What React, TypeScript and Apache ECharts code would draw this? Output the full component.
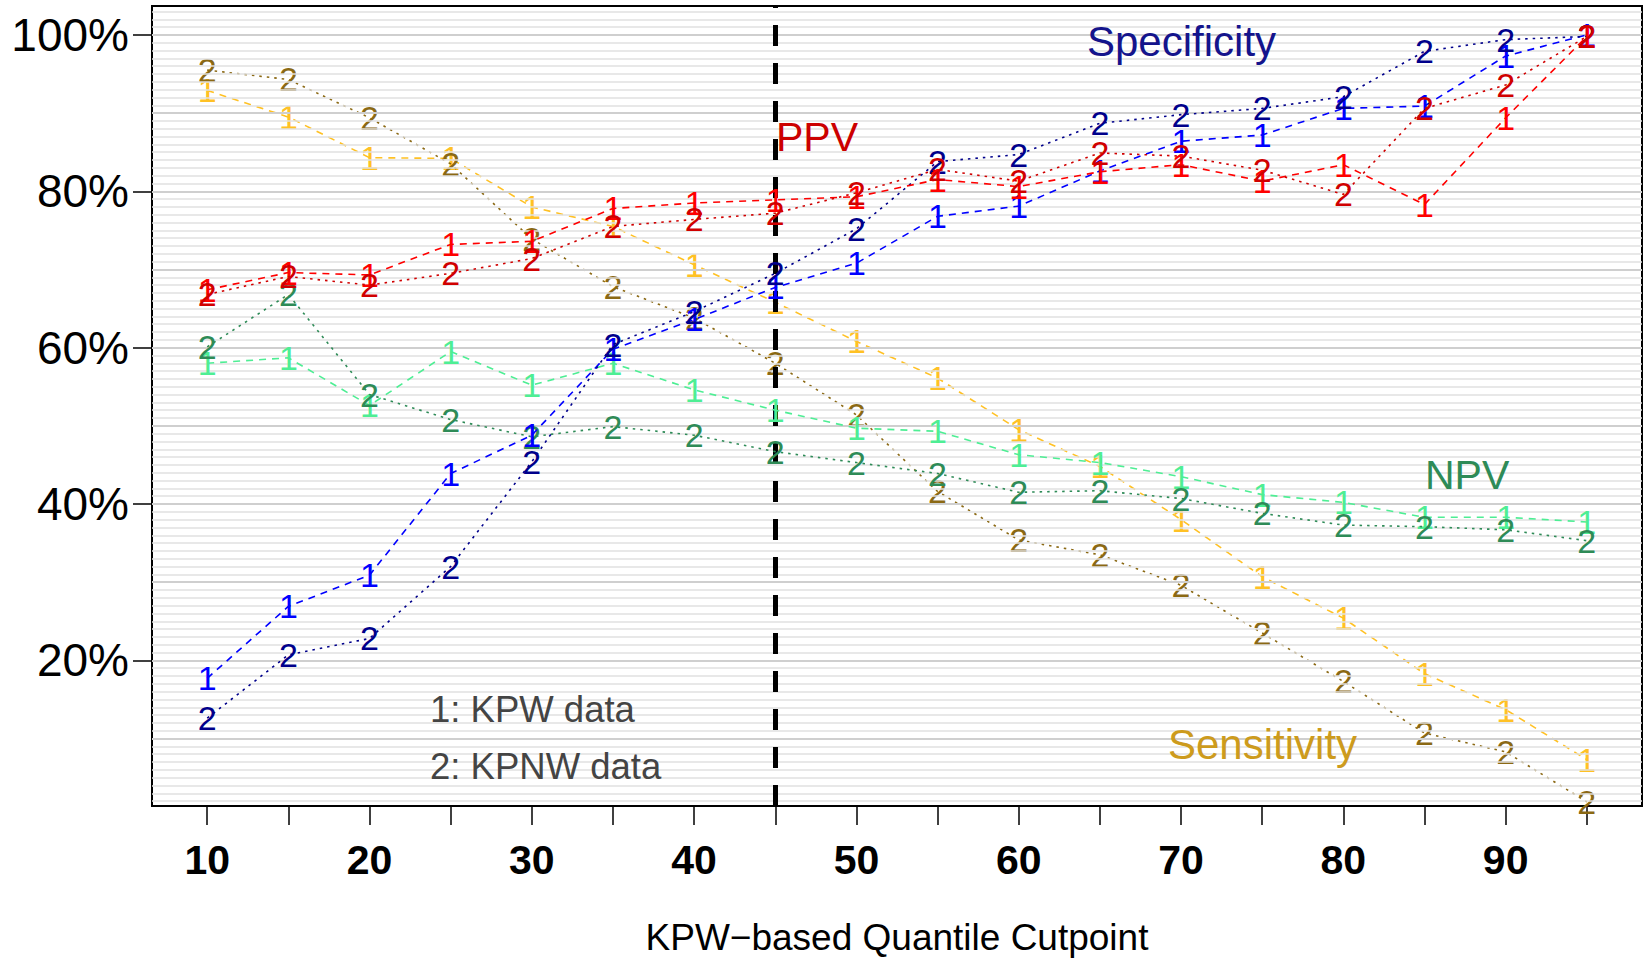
import React, { useEffect, useRef } from "react";
import * as echarts from "echarts";

const CUTPOINTS = [10, 15, 20, 25, 30, 35, 40, 45, 50, 55, 60, 65, 70, 75, 80, 85, 90, 95];
const X_TICKS = [10, 15, 20, 25, 30, 35, 40, 45, 50, 55, 60, 65, 70, 75, 80, 85, 90, 95];
const X_LABELS = [10, 20, 30, 40, 50, 60, 70, 80, 90];
const Y_TICKS = [20, 40, 60, 80, 100];

const SPEC_KPW = [17.7, 26.9, 30.9, 43.9, 48.8, 59.8, 63.6, 67.7, 70.8, 76.8, 78.1, 82.6, 86.4, 87.2, 90.6, 90.9, 97.3, 100];
const SPEC_KPNW = [12.6, 20.7, 22.8, 32.0, 45.4, 60.4, 64.6, 69.5, 75.2, 83.8, 84.7, 88.7, 89.8, 90.6, 92.1, 97.9, 99.4, 99.8];
const PPV_KPW = [67.4, 69.6, 69.3, 73.2, 73.6, 77.8, 78.5, 78.9, 79.3, 81.5, 80.6, 82.5, 83.4, 81.3, 83.4, 78.3, 89.4, 99.8];
const PPV_KPNW = [66.8, 69.1, 68.0, 69.5, 71.4, 75.5, 76.4, 77.2, 79.8, 82.8, 81.3, 84.9, 84.5, 82.7, 79.6, 90.6, 93.6, 99.8];
const NPV_KPW = [58.0, 58.7, 52.6, 59.5, 55.2, 58.0, 54.6, 52.0, 49.7, 49.3, 46.3, 45.3, 43.5, 41.2, 40.2, 38.3, 38.3, 37.7];
const NPV_KPNW = [60.1, 66.8, 54.0, 50.8, 48.6, 49.9, 48.8, 46.7, 45.3, 43.9, 41.5, 41.7, 40.7, 38.8, 37.3, 37.1, 36.7, 35.3];
const SENS_KPW = [92.9, 89.5, 84.3, 84.2, 78.0, 75.5, 70.6, 65.8, 60.8, 56.1, 49.5, 44.8, 38.0, 30.7, 25.4, 18.3, 13.7, 7.3];
const SENS_KPNW = [95.5, 94.3, 89.4, 83.5, 73.9, 67.8, 63.8, 58.0, 51.4, 41.6, 35.4, 33.5, 29.6, 23.5, 17.3, 10.7, 8.3, 1.9];

const CUTOFF = 45;

const FONT = '"Liberation Sans", Arial, sans-serif';

const DASHED = [7, 6];
const DOTTED = [2.5, 5];

const SERIES_DEFS = [
  { name: "Sensitivity KPW", values: SENS_KPW, mark: "1", color: "#FFC125", dash: DASHED },
  { name: "Sensitivity KPNW", values: SENS_KPNW, mark: "2", color: "#8B6914", dash: DOTTED },
  { name: "NPV KPW", values: NPV_KPW, mark: "1", color: "#4EEE94", dash: DASHED },
  { name: "NPV KPNW", values: NPV_KPNW, mark: "2", color: "#2E8B57", dash: DOTTED },
  { name: "Specificity KPW", values: SPEC_KPW, mark: "1", color: "#0000FF", dash: DASHED },
  { name: "Specificity KPNW", values: SPEC_KPNW, mark: "2", color: "#00008B", dash: DOTTED },
  { name: "PPV KPW", values: PPV_KPW, mark: "1", color: "#FF0000", dash: DASHED },
  { name: "PPV KPNW", values: PPV_KPNW, mark: "2", color: "#D00000", dash: DOTTED },
];

// background hatch of horizontal rules (styling only)
const GRID_LEVELS = Array.from({ length: 102 }, (_, i) => i + 2);

export default function App() {
  const ref = useRef<HTMLDivElement>(null);

  useEffect(() => {
    document.body.style.margin = "0";
    if (!ref.current) return;
    const chart = echarts.init(ref.current, null, { renderer: "svg" });

    const series: any[] = [
      {
        type: "line",
        name: "rules",
        data: [],
        z: 1,
        silent: true,
        markLine: {
          silent: true,
          symbol: ["none", "none"],
          label: { show: false },
          animation: false,
          data: GRID_LEVELS.map((v) => ({
            yAxis: v,
            lineStyle: {
              color: v % 10 === 0 ? "#cfcfcf" : "#e1e1e1",
              width: v % 10 === 0 ? 2 : 1.5,
              type: "solid",
            },
          })),
        },
      },
    ];

    SERIES_DEFS.forEach((d, idx) => {
      series.push({
        type: "line",
        name: d.name,
        data: CUTPOINTS.map((x, i) => [x, d.values[i]]),
        symbol: "circle",
        symbolSize: 1,
        showSymbol: true,
        showAllSymbol: true,
        itemStyle: { color: "transparent" },
        lineStyle: { color: d.color, width: 1.6, type: d.dash },
        label: {
          show: true,
          position: "inside",
          formatter: d.mark,
          color: d.color,
          fontSize: 34,
          fontFamily: FONT,
          align: "center",
          verticalAlign: "middle",
        },
        z: 3 + idx,
        ...(idx === 0
          ? {
              markLine: {
                silent: true,
                symbol: ["none", "none"],
                label: { show: false },
                lineStyle: { color: "#000", width: 5, type: [21, 17] },
                data: [{ xAxis: CUTOFF }],
              },
            }
          : {}),
      });
    });

    const txt = (text: string, x: number, y: number, fill: string, fontSize: number, align = "left") => ({
      type: "text",
      x,
      y,
      z: 50,
      style: { text, fill, fontSize, fontFamily: FONT, align, verticalAlign: "middle" },
    });

    const option: any = {
      animation: false,
      backgroundColor: "#ffffff",
      grid: {
        left: 152,
        right: 3,
        top: 6,
        bottom: 154,
        show: true,
        borderColor: "#000",
        borderWidth: 2,
        backgroundColor: "transparent",
      },
      xAxis: {
        type: "value",
        min: 6.6,
        max: 98.4,
        splitLine: { show: false },
        axisLine: { show: false },
        axisTick: {
          show: true,
          length: 19,
          customValues: X_TICKS,
          lineStyle: { color: "#000", width: 1.5 },
        },
        axisLabel: {
          customValues: X_LABELS,
          margin: 33,
          fontSize: 41,
          fontWeight: "bold",
          fontFamily: FONT,
          color: "#000",
        },
      },
      yAxis: {
        type: "value",
        min: 1.37,
        max: 103.7,
        splitLine: { show: false },
        axisLine: { show: false },
        axisTick: {
          show: true,
          length: 19,
          customValues: Y_TICKS,
          lineStyle: { color: "#000", width: 1.5 },
        },
        axisLabel: {
          customValues: Y_TICKS,
          formatter: (v: number) => `${v}%`,
          margin: 23,
          fontSize: 46,
          fontFamily: FONT,
          color: "#000",
        },
      },
      graphic: [
        txt("Specificity", 1087, 41, "#14148C", 42),
        txt("PPV", 776, 137, "#CC0000", 41),
        txt("NPV", 1425, 475, "#2E8B57", 41),
        txt("Sensitivity", 1168, 744, "#CD9B1D", 42),
        txt("1: KPW data", 430, 709, "#444444", 36.5),
        txt("2: KPNW data", 430, 766, "#444444", 36.5),
        txt("KPW\u2212based Quantile Cutpoint", 897, 937, "#000000", 37, "center"),
      ],
      series,
    };

    chart.setOption(option);
    return () => chart.dispose();
  }, []);

  return <div ref={ref} style={{ width: 1645, height: 960 }} />;
}
